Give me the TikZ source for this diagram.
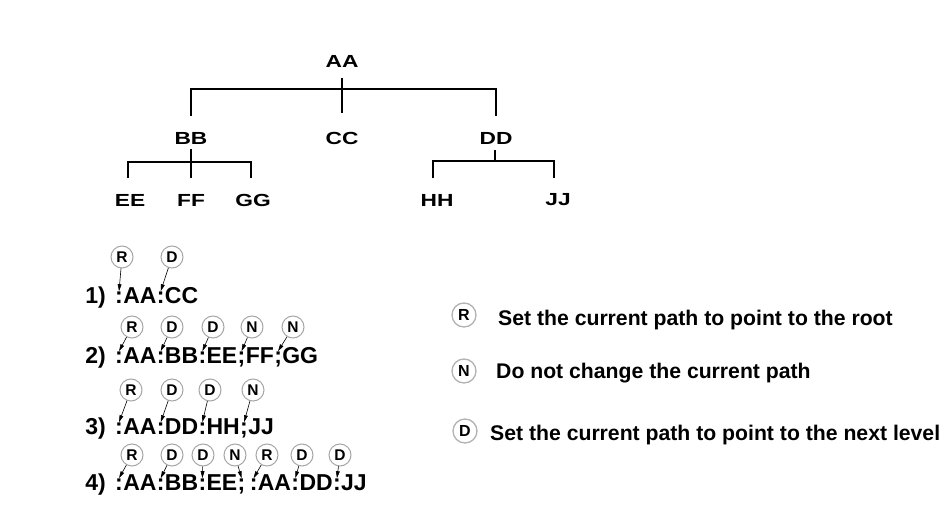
\documentclass[tikz,border=0pt]{standalone}
\usepackage{fontspec}
\setmainfont{Liberation Sans}
\usetikzlibrary{arrows.meta,calc}
\newcommand{\treeword}[1]{\scalebox{1.3}[1]{#1}}
\begin{document}
\begin{tikzpicture}[x=1pt,y=1pt,
  treelbl/.style={inner sep=0pt, font=\fontsize{17.5}{19}\selectfont\bfseries},
  edge/.style={line width=2.3pt, line join=miter},
  rowtxt/.style={inner sep=0pt, anchor=base west, font=\fontsize{23}{26}\selectfont\bfseries},
  mk/.style={circle, draw=gray!70, line width=1pt, minimum size=22pt, inner sep=0pt, font=\fontsize{15.5}{16}\selectfont\bfseries},
  legmk/.style={mk, draw=gray!60, line width=1.3pt, minimum size=24pt, font=\fontsize{16}{17}\selectfont\bfseries},
  legtxt/.style={inner sep=0pt, anchor=base west, font=\fontsize{21.2}{24}\selectfont\bfseries},
  tick/.style={line width=0.6pt, -{Triangle[width=3.8pt,length=7pt]}}
]
\useasboundingbox (0,0) rectangle (947,504);

% ---- tree ----
\node[treelbl] (AA) at (342,443) {\treeword{AA}};
\node[treelbl] (BB) at (191,366) {\treeword{BB}};
\node[treelbl] (CC) at (342,366) {\treeword{CC}};
\node[treelbl] (DD) at (496,366) {\treeword{DD}};
\node[treelbl] (EE) at (130,304) {\treeword{EE}};
\node[treelbl] (FF) at (191,304) {\treeword{FF}};
\node[treelbl] (GG) at (253,304) {\treeword{GG}};
\node[treelbl] (HH) at (437,304) {\treeword{HH}};
\node[treelbl] (JJ) at (558,304) {\treeword{JJ}};

\coordinate (rb) at (342,415);
\coordinate (bb) at (191,342);
\coordinate (dd) at (495,343);

\draw[edge] ([yshift=-11pt]AA.south) -- ([yshift=19pt]CC.north);
\draw[edge] ([yshift=16pt]BB.north) |- (rb) -| ([yshift=16pt]DD.north);
\draw[edge] ([yshift=-5pt]BB.south) -- ([yshift=15.5pt]FF.north);
\draw[edge] ([xshift=-2pt,yshift=15.5pt]EE.north) |- (bb) -| ([xshift=-2pt,yshift=15.5pt]GG.north);
\draw[edge] ([xshift=-1pt,yshift=-6pt]DD.south) -- (dd);
\draw[edge] ([xshift=-4pt,yshift=15.5pt]HH.north) |- (dd) -| ([xshift=-4pt,yshift=15.5pt]JJ.north);

% ---- row 1 ----
\node[rowtxt, anchor=base east] (l1) at (106,201) {1)};
\node[rowtxt] (r1s1) at (115,201) {:};
\node[rowtxt] (r1w1) at (r1s1.base east) {AA};
\node[rowtxt] (r1s2) at (r1w1.base east) {:};
\node[rowtxt] (r1w2) at (r1s2.base east) {CC};
\node[mk] (r1c1) at (122,247) {R};
\node[mk] (r1c2) at (172,247) {D};
\draw[tick] (r1c1) -- (r1s1.north);
\draw[tick] (r1c2) -- (r1s2.north);

% ---- row 2 ----
\node[rowtxt, anchor=base east] (l2) at (106,141) {2)};
\node[rowtxt] (r2s1) at (115,141) {:};
\node[rowtxt] (r2w1) at (r2s1.base east) {AA};
\node[rowtxt] (r2s2) at (r2w1.base east) {:};
\node[rowtxt] (r2w2) at (r2s2.base east) {BB};
\node[rowtxt] (r2s3) at (r2w2.base east) {:};
\node[rowtxt] (r2w3) at (r2s3.base east) {EE};
\node[rowtxt] (r2s4) at (r2w3.base east) {;};
\node[rowtxt] (r2w4) at (r2s4.base east) {FF};
\node[rowtxt] (r2s5) at (r2w4.base east) {;};
\node[rowtxt] (r2w5) at (r2s5.base east) {GG};
\node[mk] (r2c1) at (132,177) {R};
\node[mk] (r2c2) at (172,177) {D};
\node[mk] (r2c3) at (213,177) {D};
\node[mk] (r2c4) at (252,177) {N};
\node[mk] (r2c5) at (293,177) {N};
\draw[tick] (r2c1) -- (r2s1.north);
\draw[tick] (r2c2) -- (r2s2.north);
\draw[tick] (r2c3) -- (r2s3.north);
\draw[tick] (r2c4) -- (r2s4.north);
\draw[tick] (r2c5) -- (r2s5.north);

% ---- row 3 ----
\node[rowtxt, anchor=base east] (l3) at (106,70) {3)};
\node[rowtxt] (r3s1) at (115,70) {:};
\node[rowtxt] (r3w1) at (r3s1.base east) {AA};
\node[rowtxt] (r3s2) at (r3w1.base east) {:};
\node[rowtxt] (r3w2) at (r3s2.base east) {DD};
\node[rowtxt] (r3s3) at (r3w2.base east) {:};
\node[rowtxt] (r3w3) at (r3s3.base east) {HH};
\node[rowtxt] (r3s4) at (r3w3.base east) {;};
\node[rowtxt] (r3w4) at (r3s4.base east) {JJ};
\node[mk] (r3c1) at (131,114) {R};
\node[mk] (r3c2) at (172,114) {D};
\node[mk] (r3c3) at (210,114) {D};
\node[mk] (r3c4) at (253,114) {N};
\draw[tick] (r3c1) -- (r3s1.north);
\draw[tick] (r3c2) -- (r3s2.north);
\draw[tick] (r3c3) -- (r3s3.north);
\draw[tick] (r3c4) -- (r3s4.north);

% ---- row 4 ----
\node[rowtxt, anchor=base east] (l4) at (106,14) {4)};
\node[rowtxt] (r4s1) at (115,14) {:};
\node[rowtxt] (r4w1) at (r4s1.base east) {AA};
\node[rowtxt] (r4s2) at (r4w1.base east) {:};
\node[rowtxt] (r4w2) at (r4s2.base east) {BB};
\node[rowtxt] (r4s3) at (r4w2.base east) {:};
\node[rowtxt] (r4w3) at (r4s3.base east) {EE};
\node[rowtxt] (r4s4) at (r4w3.base east) {;};
\node[rowtxt] (r4s5) at ([xshift=4pt]r4s4.base east) {:};
\node[rowtxt] (r4w4) at (r4s5.base east) {AA};
\node[rowtxt] (r4s6) at (r4w4.base east) {:};
\node[rowtxt] (r4w5) at (r4s6.base east) {DD};
\node[rowtxt] (r4s7) at (r4w5.base east) {:};
\node[rowtxt] (r4w6) at (r4s7.base east) {JJ};
\node[mk] (r4c1) at (132,49) {R};
\node[mk] (r4c2) at (172,49) {D};
\node[mk] (r4c3) at (203,49) {D};
\node[mk] (r4c4) at (235,49) {N};
\node[mk] (r4c5) at (267,49) {R};
\node[mk] (r4c6) at (302,49) {D};
\node[mk] (r4c7) at (340,49) {D};
\draw[tick] (r4c1) -- (r4s1.north);
\draw[tick] (r4c2) -- (r4s2.north);
\draw[tick] (r4c3) -- (r4s3.north);
\draw[tick] (r4c4) -- (r4s4.north);
\draw[tick] (r4c5) -- (r4s5.north);
\draw[tick] (r4c6) -- (r4s6.north);
\draw[tick] (r4c7) -- (r4s7.north);

% ---- legend ----
\node[legmk] (kR) at (464,189) {R};
\node[legtxt] (tR) at (498,179) {Set the current path to point to the root};
\node[legmk] (kN) at (464,133) {N};
\node[legtxt] (tN) at (496,126) {Do not change the current path};
\node[legmk] (kD) at (465,73) {D};
\node[legtxt] (tD) at (490,64) {Set the current path to point to the next level};
\end{tikzpicture}
\end{document}
